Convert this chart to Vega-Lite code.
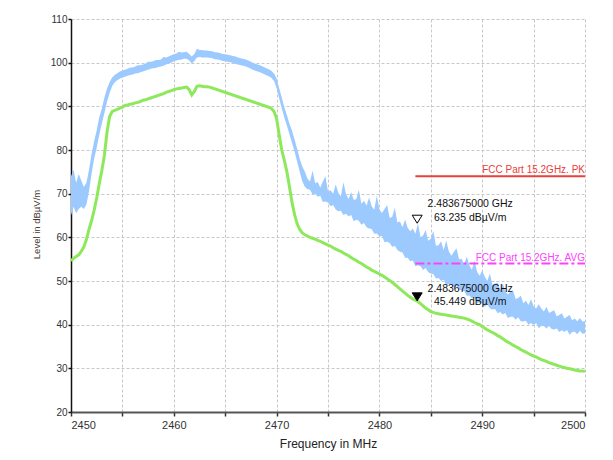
{
  "$schema": "https://vega.github.io/schema/vega-lite/v6.json",
  "width": 514,
  "height": 393,
  "autosize": {"type": "none"},
  "padding": {"left": 71, "top": 19, "right": 28, "bottom": 48},
  "background": "#ffffff",
  "config": {
    "view": {"stroke": null},
    "font": "Liberation Sans",
    "axis": {"labelFont": "Liberation Sans", "titleFont": "Liberation Sans"}
  },
  "datasets": {
    "trace": [
      {"f":2450.00,"lo":65.0,"hi":74.0,"avg":54.6},
      {"f":2450.25,"lo":67.0,"hi":75.5,"avg":55.2},
      {"f":2450.50,"lo":65.5,"hi":72.5,"avg":55.6},
      {"f":2450.75,"lo":66.5,"hi":74.5,"avg":56.0},
      {"f":2451.00,"lo":67.0,"hi":73.0,"avg":56.8},
      {"f":2451.25,"lo":66.5,"hi":71.5,"avg":57.8},
      {"f":2451.50,"lo":67.5,"hi":72.5,"avg":59.5},
      {"f":2451.75,"lo":70.5,"hi":75.5,"avg":61.8},
      {"f":2452.00,"lo":74.5,"hi":79.0,"avg":63.8},
      {"f":2452.25,"lo":78.0,"hi":82.0,"avg":66.2},
      {"f":2452.50,"lo":80.5,"hi":84.5,"avg":69.0},
      {"f":2452.75,"lo":83.5,"hi":87.5,"avg":72.3},
      {"f":2453.00,"lo":86.0,"hi":89.5,"avg":75.3},
      {"f":2453.25,"lo":88.5,"hi":92.0,"avg":78.8},
      {"f":2453.50,"lo":91.0,"hi":94.0,"avg":84.0},
      {"f":2453.75,"lo":93.0,"hi":95.5,"avg":87.6},
      {"f":2454.00,"lo":94.6,"hi":96.6,"avg":88.8},
      {"f":2454.25,"lo":95.5,"hi":97.2,"avg":89.1},
      {"f":2454.50,"lo":96.0,"hi":97.6,"avg":89.3},
      {"f":2454.75,"lo":96.3,"hi":98.0,"avg":89.6},
      {"f":2455.00,"lo":96.6,"hi":98.2,"avg":89.8},
      {"f":2455.25,"lo":96.8,"hi":98.4,"avg":90.2},
      {"f":2455.50,"lo":97.0,"hi":98.6,"avg":90.3},
      {"f":2455.75,"lo":97.2,"hi":98.9,"avg":90.5},
      {"f":2456.00,"lo":97.3,"hi":98.9,"avg":90.6},
      {"f":2456.25,"lo":97.5,"hi":99.1,"avg":90.8},
      {"f":2456.50,"lo":97.6,"hi":99.4,"avg":90.9},
      {"f":2456.75,"lo":97.8,"hi":99.4,"avg":91.1},
      {"f":2457.00,"lo":98.0,"hi":99.6,"avg":91.4},
      {"f":2457.25,"lo":98.2,"hi":99.8,"avg":91.5},
      {"f":2457.50,"lo":98.4,"hi":100.2,"avg":91.7},
      {"f":2457.75,"lo":98.6,"hi":100.2,"avg":91.9},
      {"f":2458.00,"lo":98.7,"hi":100.3,"avg":92.1},
      {"f":2458.25,"lo":98.8,"hi":100.6,"avg":92.3},
      {"f":2458.50,"lo":99.0,"hi":100.6,"avg":92.5},
      {"f":2458.75,"lo":99.1,"hi":100.7,"avg":92.7},
      {"f":2459.00,"lo":99.3,"hi":101.3,"avg":92.9},
      {"f":2459.25,"lo":99.6,"hi":101.2,"avg":93.2},
      {"f":2459.50,"lo":99.8,"hi":101.4,"avg":93.4},
      {"f":2459.75,"lo":100.0,"hi":101.7,"avg":93.6},
      {"f":2460.00,"lo":100.3,"hi":101.9,"avg":93.8},
      {"f":2460.25,"lo":100.5,"hi":102.1,"avg":94.0},
      {"f":2460.50,"lo":100.6,"hi":102.5,"avg":94.1},
      {"f":2460.75,"lo":100.7,"hi":102.3,"avg":94.2},
      {"f":2461.00,"lo":100.9,"hi":102.4,"avg":94.3},
      {"f":2461.25,"lo":100.9,"hi":102.5,"avg":94.4},
      {"f":2461.50,"lo":100.5,"hi":102.0,"avg":93.8},
      {"f":2461.75,"lo":99.8,"hi":101.4,"avg":92.6},
      {"f":2462.00,"lo":100.4,"hi":102.0,"avg":93.4},
      {"f":2462.25,"lo":101.2,"hi":103.2,"avg":94.6},
      {"f":2462.50,"lo":101.3,"hi":102.9,"avg":94.7},
      {"f":2462.75,"lo":101.2,"hi":102.9,"avg":94.6},
      {"f":2463.00,"lo":101.2,"hi":102.8,"avg":94.5},
      {"f":2463.25,"lo":101.2,"hi":102.8,"avg":94.5},
      {"f":2463.50,"lo":101.1,"hi":102.7,"avg":94.4},
      {"f":2463.75,"lo":101.0,"hi":102.6,"avg":94.2},
      {"f":2464.00,"lo":100.8,"hi":102.4,"avg":94.0},
      {"f":2464.25,"lo":100.7,"hi":102.3,"avg":93.8},
      {"f":2464.50,"lo":100.6,"hi":102.2,"avg":93.6},
      {"f":2464.75,"lo":100.4,"hi":102.0,"avg":93.4},
      {"f":2465.00,"lo":100.3,"hi":101.9,"avg":93.2},
      {"f":2465.25,"lo":100.2,"hi":101.8,"avg":93.0},
      {"f":2465.50,"lo":100.1,"hi":101.7,"avg":92.8},
      {"f":2465.75,"lo":99.9,"hi":101.5,"avg":92.6},
      {"f":2466.00,"lo":99.7,"hi":101.4,"avg":92.4},
      {"f":2466.25,"lo":99.6,"hi":101.2,"avg":92.2},
      {"f":2466.50,"lo":99.4,"hi":101.0,"avg":92.0},
      {"f":2466.75,"lo":99.3,"hi":100.9,"avg":91.8},
      {"f":2467.00,"lo":99.1,"hi":100.7,"avg":91.6},
      {"f":2467.25,"lo":98.9,"hi":100.5,"avg":91.4},
      {"f":2467.50,"lo":98.6,"hi":100.2,"avg":91.2},
      {"f":2467.75,"lo":98.3,"hi":99.9,"avg":91.0},
      {"f":2468.00,"lo":98.1,"hi":99.7,"avg":90.8},
      {"f":2468.25,"lo":97.9,"hi":99.5,"avg":90.6},
      {"f":2468.50,"lo":97.7,"hi":99.3,"avg":90.4},
      {"f":2468.75,"lo":97.4,"hi":99.0,"avg":90.2},
      {"f":2469.00,"lo":97.1,"hi":98.7,"avg":90.0},
      {"f":2469.25,"lo":96.9,"hi":98.5,"avg":89.8},
      {"f":2469.50,"lo":96.5,"hi":98.1,"avg":89.5},
      {"f":2469.75,"lo":95.8,"hi":97.5,"avg":88.8},
      {"f":2470.00,"lo":94.2,"hi":96.4,"avg":87.2},
      {"f":2470.25,"lo":91.8,"hi":94.2,"avg":83.5},
      {"f":2470.50,"lo":89.6,"hi":92.0,"avg":80.0},
      {"f":2470.75,"lo":87.4,"hi":89.8,"avg":77.6},
      {"f":2471.00,"lo":85.6,"hi":88.0,"avg":75.0},
      {"f":2471.25,"lo":83.6,"hi":86.0,"avg":71.6},
      {"f":2471.50,"lo":81.6,"hi":84.4,"avg":68.0},
      {"f":2471.75,"lo":79.6,"hi":82.4,"avg":65.2},
      {"f":2472.00,"lo":77.3,"hi":80.3,"avg":63.1},
      {"f":2472.25,"lo":75.0,"hi":78.0,"avg":61.8},
      {"f":2472.50,"lo":72.8,"hi":76.2,"avg":61.0},
      {"f":2472.75,"lo":71.6,"hi":75.0,"avg":60.6},
      {"f":2473.00,"lo":71.0,"hi":73.5,"avg":60.3},
      {"f":2473.25,"lo":70.9,"hi":72.8,"avg":60.0},
      {"f":2473.50,"lo":69.8,"hi":75.3,"avg":59.8},
      {"f":2473.75,"lo":70.0,"hi":72.4,"avg":59.6},
      {"f":2474.00,"lo":69.3,"hi":72.7,"avg":59.3},
      {"f":2474.25,"lo":69.5,"hi":71.4,"avg":59.1},
      {"f":2474.50,"lo":68.1,"hi":72.8,"avg":58.8},
      {"f":2474.75,"lo":68.2,"hi":74.0,"avg":58.5},
      {"f":2475.00,"lo":68.0,"hi":70.5,"avg":58.2},
      {"f":2475.25,"lo":67.1,"hi":70.8,"avg":58.0},
      {"f":2475.50,"lo":67.4,"hi":70.0,"avg":57.6},
      {"f":2475.75,"lo":66.4,"hi":72.1,"avg":57.3},
      {"f":2476.00,"lo":66.0,"hi":70.2,"avg":57.0},
      {"f":2476.25,"lo":66.1,"hi":69.4,"avg":56.8},
      {"f":2476.50,"lo":65.1,"hi":72.6,"avg":56.4},
      {"f":2476.75,"lo":65.4,"hi":69.9,"avg":56.1},
      {"f":2477.00,"lo":64.8,"hi":68.8,"avg":55.8},
      {"f":2477.25,"lo":65.1,"hi":70.4,"avg":55.4},
      {"f":2477.50,"lo":63.7,"hi":68.6,"avg":55.0},
      {"f":2477.75,"lo":64.0,"hi":68.7,"avg":54.7},
      {"f":2478.00,"lo":63.8,"hi":70.9,"avg":54.3},
      {"f":2478.25,"lo":62.9,"hi":67.7,"avg":54.0},
      {"f":2478.50,"lo":63.3,"hi":68.4,"avg":53.6},
      {"f":2478.75,"lo":62.3,"hi":67.3,"avg":53.2},
      {"f":2479.00,"lo":62.0,"hi":69.1,"avg":52.9},
      {"f":2479.25,"lo":61.9,"hi":67.1,"avg":52.5},
      {"f":2479.50,"lo":60.8,"hi":66.3,"avg":52.2},
      {"f":2479.75,"lo":60.9,"hi":69.6,"avg":51.9},
      {"f":2480.00,"lo":60.2,"hi":66.4,"avg":51.6},
      {"f":2480.25,"lo":60.3,"hi":65.6,"avg":51.3},
      {"f":2480.50,"lo":58.9,"hi":66.5,"avg":50.9},
      {"f":2480.75,"lo":59.0,"hi":67.4,"avg":50.5},
      {"f":2481.00,"lo":58.7,"hi":64.4,"avg":50.1},
      {"f":2481.25,"lo":57.8,"hi":64.7,"avg":49.7},
      {"f":2481.50,"lo":58.1,"hi":66.8,"avg":49.2},
      {"f":2481.75,"lo":57.1,"hi":63.4,"avg":48.7},
      {"f":2482.00,"lo":56.7,"hi":63.6,"avg":48.2},
      {"f":2482.25,"lo":56.5,"hi":62.3,"avg":47.7},
      {"f":2482.50,"lo":55.3,"hi":64.1,"avg":47.2},
      {"f":2482.75,"lo":55.3,"hi":62.2,"avg":46.7},
      {"f":2483.00,"lo":54.5,"hi":61.4,"avg":46.3},
      {"f":2483.25,"lo":54.7,"hi":62.0,"avg":45.9},
      {"f":2483.50,"lo":53.4,"hi":60.8,"avg":45.6},
      {"f":2483.75,"lo":53.6,"hi":63.2,"avg":45.3},
      {"f":2484.00,"lo":53.4,"hi":60.0,"avg":44.8},
      {"f":2484.25,"lo":52.5,"hi":60.4,"avg":44.3},
      {"f":2484.50,"lo":53.0,"hi":61.7,"avg":43.8},
      {"f":2484.75,"lo":52.0,"hi":59.2,"avg":43.4},
      {"f":2485.00,"lo":51.7,"hi":59.7,"avg":43.0},
      {"f":2485.25,"lo":51.6,"hi":61.5,"avg":42.8},
      {"f":2485.50,"lo":50.6,"hi":58.1,"avg":42.6},
      {"f":2485.75,"lo":50.7,"hi":58.2,"avg":42.5},
      {"f":2486.00,"lo":50.0,"hi":59.1,"avg":42.4},
      {"f":2486.25,"lo":50.3,"hi":57.1,"avg":42.3},
      {"f":2486.50,"lo":49.0,"hi":59.3,"avg":42.2},
      {"f":2486.75,"lo":49.3,"hi":56.8,"avg":42.1},
      {"f":2487.00,"lo":49.2,"hi":55.8,"avg":42.0},
      {"f":2487.25,"lo":48.4,"hi":56.7,"avg":41.9},
      {"f":2487.50,"lo":48.9,"hi":57.5,"avg":41.8},
      {"f":2487.75,"lo":48.0,"hi":55.0,"avg":41.7},
      {"f":2488.00,"lo":47.8,"hi":55.1,"avg":41.6},
      {"f":2488.25,"lo":47.7,"hi":53.8,"avg":41.5},
      {"f":2488.50,"lo":46.6,"hi":55.6,"avg":41.3},
      {"f":2488.75,"lo":46.7,"hi":53.6,"avg":41.1},
      {"f":2489.00,"lo":46.0,"hi":52.6,"avg":40.8},
      {"f":2489.25,"lo":46.2,"hi":54.7,"avg":40.5},
      {"f":2489.50,"lo":44.9,"hi":52.1,"avg":40.2},
      {"f":2489.75,"lo":45.1,"hi":51.2,"avg":40.0},
      {"f":2490.00,"lo":44.9,"hi":52.4,"avg":39.6},
      {"f":2490.25,"lo":44.1,"hi":51.0,"avg":39.2},
      {"f":2490.50,"lo":44.6,"hi":50.0,"avg":38.8},
      {"f":2490.75,"lo":43.7,"hi":51.7,"avg":38.5},
      {"f":2491.00,"lo":43.5,"hi":49.1,"avg":38.2},
      {"f":2491.25,"lo":43.6,"hi":49.4,"avg":37.9},
      {"f":2491.50,"lo":42.6,"hi":49.6,"avg":37.5},
      {"f":2491.75,"lo":42.9,"hi":47.9,"avg":37.2},
      {"f":2492.00,"lo":42.3,"hi":49.5,"avg":36.8},
      {"f":2492.25,"lo":42.7,"hi":47.6,"avg":36.4},
      {"f":2492.50,"lo":41.5,"hi":46.9,"avg":36.0},
      {"f":2492.75,"lo":41.8,"hi":47.6,"avg":35.7},
      {"f":2493.00,"lo":41.8,"hi":47.9,"avg":35.3},
      {"f":2493.25,"lo":41.1,"hi":45.9,"avg":35.0},
      {"f":2493.50,"lo":41.7,"hi":46.1,"avg":34.7},
      {"f":2493.75,"lo":40.8,"hi":46.7,"avg":34.3},
      {"f":2494.00,"lo":40.7,"hi":44.9,"avg":34.0},
      {"f":2494.25,"lo":40.9,"hi":45.5,"avg":33.7},
      {"f":2494.50,"lo":40.0,"hi":44.5,"avg":33.4},
      {"f":2494.75,"lo":40.4,"hi":45.8,"avg":33.1},
      {"f":2495.00,"lo":39.9,"hi":44.2,"avg":32.8},
      {"f":2495.25,"lo":40.4,"hi":43.7,"avg":32.6},
      {"f":2495.50,"lo":39.2,"hi":44.7,"avg":32.3},
      {"f":2495.75,"lo":39.7,"hi":43.7,"avg":32.0},
      {"f":2496.00,"lo":39.7,"hi":43.0,"avg":31.8},
      {"f":2496.25,"lo":39.1,"hi":44.1,"avg":31.6},
      {"f":2496.50,"lo":39.7,"hi":42.7,"avg":31.3},
      {"f":2496.75,"lo":39.0,"hi":43.0,"avg":31.1},
      {"f":2497.00,"lo":38.9,"hi":43.3,"avg":30.9},
      {"f":2497.25,"lo":39.1,"hi":41.9,"avg":30.7},
      {"f":2497.50,"lo":38.3,"hi":42.2,"avg":30.5},
      {"f":2497.75,"lo":38.7,"hi":42.6,"avg":30.3},
      {"f":2498.00,"lo":38.3,"hi":41.4,"avg":30.2},
      {"f":2498.25,"lo":38.8,"hi":41.8,"avg":30.0},
      {"f":2498.50,"lo":37.7,"hi":42.2,"avg":29.9},
      {"f":2498.75,"lo":38.3,"hi":41.0,"avg":29.8},
      {"f":2499.00,"lo":38.4,"hi":41.4,"avg":29.6},
      {"f":2499.25,"lo":37.8,"hi":40.8,"avg":29.5},
      {"f":2499.50,"lo":38.6,"hi":41.5,"avg":29.4},
      {"f":2499.75,"lo":37.9,"hi":40.7,"avg":29.4},
      {"f":2500.00,"lo":38.0,"hi":40.8,"avg":29.3}
    ],
    "limits": [
      {"name": "PK", "label": "FCC Part 15.2GHz. PK", "x1": 2483.5, "x2": 2500, "y": 74},
      {"name": "AVG", "label": "FCC Part 15.2GHz. AVG", "x1": 2483.5, "x2": 2500, "y": 54}
    ],
    "markers": [
      {"kind": "PK", "f": 2483.675, "v": 63.235, "label": "2.483675000 GHz\n63.235 dBµV/m"},
      {"kind": "AVG", "f": 2483.675, "v": 45.449, "label": "2.483675000 GHz\n45.449 dBµV/m"}
    ]
  },
  "layer": [
    {
      "data": {"name": "trace"},
      "mark": {"type": "area", "color": "#9ccaff", "opacity": 1},
      "encoding": {
        "x": {
          "field": "f", "type": "quantitative", "title": "Frequency in MHz",
          "scale": {"domain": [2450, 2500], "nice": false, "zero": false},
          "axis": {
            "values": [2450,2455,2460,2465,2470,2475,2480,2485,2490,2495,2500],
            "format": "d",
            "labelExpr": "datum.value % 10 === 0 ? datum.label : ''",
            "grid": true, "gridColor": "#c8c8c8", "gridDash": [3, 2], "gridWidth": 1,
            "domainColor": "#555555", "domainWidth": 2,
            "tickColor": "#333333", "tickSize": 4, "tickWidth": 1.5,
            "labelFontSize": 11, "labelColor": "#333333", "labelPadding": 3,
            "titleFontSize": 12, "titleColor": "#222222", "titleFontWeight": "normal", "titlePadding": 8
          }
        },
        "y": {
          "field": "lo", "type": "quantitative", "title": "Level in dBµV/m",
          "scale": {"domain": [20, 110], "nice": false, "zero": false},
          "axis": {
            "values": [20,25,30,35,40,45,50,55,60,65,70,75,80,85,90,95,100,105,110],
            "format": "d",
            "labelExpr": "datum.value % 10 === 0 ? datum.label : ''",
            "grid": true, "gridColor": "#c8c8c8", "gridDash": [3, 2], "gridWidth": 1,
            "domainColor": "#111111", "domainWidth": 1.5,
            "tickColor": "#111111", "tickSize": 3, "tickWidth": 1.5,
            "labelFontSize": 10, "labelColor": "#333333", "labelPadding": 1,
            "titleFontSize": 9.5, "titleColor": "#4a3a30", "titleFontWeight": "normal", "titlePadding": 9,
            "titleY": 205
          }
        },
        "y2": {"field": "hi"}
      }
    },
    {
      "data": {"name": "trace"},
      "mark": {"type": "line", "color": "#8ee85c", "strokeWidth": 3},
      "encoding": {
        "x": {"field": "f", "type": "quantitative", "title": "Frequency in MHz"},
        "y": {"field": "avg", "type": "quantitative", "title": "Level in dBµV/m"}
      }
    },
    {
      "data": {"name": "limits"},
      "mark": {"type": "rule", "strokeWidth": 2},
      "encoding": {
        "x": {"field": "x1", "type": "quantitative", "title": "Frequency in MHz"},
        "x2": {"field": "x2"},
        "y": {"field": "y", "type": "quantitative", "title": "Level in dBµV/m"},
        "color": {"field": "name", "type": "nominal", "scale": {"domain": ["PK", "AVG"], "range": ["#e8403a", "#ff40ff"]}, "legend": null},
        "strokeDash": {"field": "name", "type": "nominal", "scale": {"domain": ["PK", "AVG"], "range": [[1, 0], [9, 3, 3, 3]]}, "legend": null}
      }
    },
    {
      "data": {"name": "limits"},
      "mark": {"type": "text", "align": "right", "baseline": "bottom", "dy": -1, "fontSize": 10, "font": "Liberation Sans"},
      "encoding": {
        "x": {"field": "x2", "type": "quantitative", "title": "Frequency in MHz"},
        "y": {"field": "y", "type": "quantitative", "title": "Level in dBµV/m"},
        "text": {"field": "label"},
        "color": {"field": "name", "type": "nominal", "scale": {"domain": ["PK", "AVG"], "range": ["#e8403a", "#ff40ff"]}, "legend": null}
      }
    },
    {
      "data": {"name": "markers"},
      "mark": {"type": "point", "shape": "M-1,-1.6L1,-1.6L0,0Z", "size": 100, "filled": true, "stroke": "#000000", "strokeWidth": 1, "opacity": 1},
      "encoding": {
        "x": {"field": "f", "type": "quantitative", "title": "Frequency in MHz"},
        "y": {"field": "v", "type": "quantitative", "title": "Level in dBµV/m"},
        "fill": {"field": "kind", "type": "nominal", "scale": {"domain": ["PK", "AVG"], "range": ["#ffffff", "#000000"]}, "legend": null}
      }
    },
    {
      "data": {"name": "markers"},
      "transform": [{"filter": "datum.kind === 'PK'"}],
      "mark": {"type": "text", "align": "center", "baseline": "top", "lineBreak": "\n", "lineHeight": 13.4, "dx": 53, "dy": -24, "fontSize": 10.5, "color": "#111111", "font": "Liberation Sans"},
      "encoding": {
        "x": {"field": "f", "type": "quantitative", "title": "Frequency in MHz"},
        "y": {"field": "v", "type": "quantitative", "title": "Level in dBµV/m"},
        "text": {"field": "label"}
      }
    },
    {
      "data": {"name": "markers"},
      "transform": [{"filter": "datum.kind === 'AVG'"}],
      "mark": {"type": "text", "align": "center", "baseline": "top", "lineBreak": "\n", "lineHeight": 13.4, "dx": 53, "dy": -17, "fontSize": 10.5, "color": "#111111", "font": "Liberation Sans"},
      "encoding": {
        "x": {"field": "f", "type": "quantitative", "title": "Frequency in MHz"},
        "y": {"field": "v", "type": "quantitative", "title": "Level in dBµV/m"},
        "text": {"field": "label"}
      }
    }
  ]
}
